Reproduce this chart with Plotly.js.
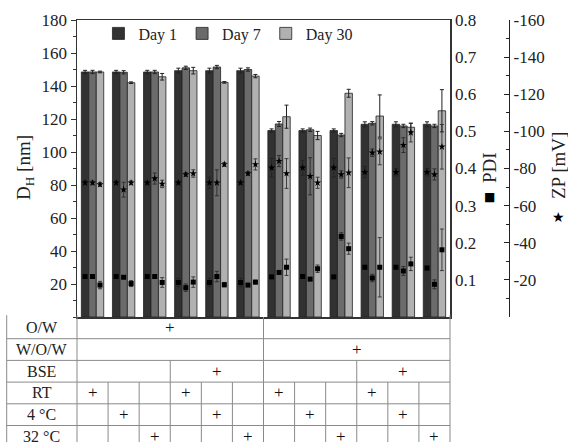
<!DOCTYPE html>
<html>
<head>
<meta charset="utf-8">
<script src="https://cdn.plot.ly/plotly-3.0.1.min.js"></script>
<style>html,body{margin:0;padding:0;background:#fff;}#chart{width:568px;height:442px;}</style>
</head>
<body>
<div id="chart"></div>
<script>
// ---------- data ----------
const groups = ['O/W RT','O/W 4 °C','O/W 32 °C','O/W BSE RT','O/W BSE 4 °C','O/W BSE 32 °C',
                'W/O/W RT','W/O/W 4 °C','W/O/W 32 °C','W/O/W BSE RT','W/O/W BSE 4 °C','W/O/W BSE 32 °C'];
const days = ['Day 1', 'Day 7', 'Day 30'];

// hydrodynamic diameter D_H [nm]
const dh1  = [148.5,148.5,148.5,149.3,149.3,149.3,113.0,113.0,113.0,116.8,116.8,116.8];
const dh7  = [148.5,148.3,148.5,151.0,151.5,150.0,117.0,113.5,110.3,117.4,115.8,115.8];
const dh30 = [148.5,142.0,145.6,149.3,142.2,146.0,121.4,110.0,135.6,121.8,115.0,125.0];
const dhE1  = [1,1,1,1.5,1.5,1.5,1,1,1,1.5,1.5,1.5];
const dhE7  = [1,1,1,1,1,1,1.5,1,1,1,1,1];
const dhE30 = [0.5,0.5,2,2,0.5,1,7,2.5,2.4,12.8,2.5,12.8];

// PDI
const pdi1  = [0.109,0.109,0.109,0.093,0.093,0.093,0.108,0.109,0.108,0.134,0.134,0.132];
const pdi7  = [0.109,0.107,0.109,0.079,0.109,0.086,0.120,0.102,0.217,0.105,0.124,0.088];
const pdi30 = [0.086,0.090,0.093,0.094,0.087,0.094,0.134,0.130,0.184,0.134,0.143,0.181];
const pdiE1  = [0.003,0.003,0.003,0.011,0.011,0.011,0.003,0.003,0.003,0.005,0.005,0.005];
const pdiE7  = [0.003,0.003,0.003,0.010,0.014,0.003,0.003,0.003,0.010,0.010,0.012,0.012];
const pdiE30 = [0.010,0.008,0.013,0.014,0.006,0.005,0.022,0.010,0.015,0.080,0.018,0.056];

// zeta potential ZP [mV]
const zp1  = [-72.3,-72.3,-72.3,-72.3,-72.3,-72.3,-80.4,-80.4,-80.4,-78.0,-78.0,-78.0];
const zp7  = [-72.3,-68.6,-74.6,-76.8,-72.3,-77.3,-84.0,-75.8,-76.8,-88.5,-92.6,-76.8];
const zp30 = [-71.4,-72.3,-71.7,-77.3,-82.2,-82.2,-77.3,-72.3,-77.7,-89.0,-99.3,-91.7];
const zpE1  = [1,1,1,1,3,1,5,4,5,3,2,2];
const zpE7  = [1,4,3,1,7,1,3,10,2,2,4,3];
const zpE30 = [1,1,2,2,1,3,8,3,8,7,5,12];

// tick labels
const dhTicks = [20,40,60,80,100,120,140,160,180];
const pdiTicks = [0.1,0.2,0.3,0.4,0.5,0.6,0.7,0.8];
const zpTicks = [-20,-40,-60,-80,-100,-120,-140,-160];
const zpTickText = ['-20','-40','-60','-80','-100','-120','-140','-160'];

// condition table
const tableRows = ['O/W','W/O/W','BSE','RT','4 °C','32 °C'];
// each cell: [first group, last group, text]
const tableCells = [
  [[0,5,'+'],[6,11,'']],
  [[0,5,''],[6,11,'+']],
  [[0,2,''],[3,5,'+'],[6,8,''],[9,11,'+']],
  [[0,0,'+'],[1,1,''],[2,2,''],[3,3,'+'],[4,4,''],[5,5,''],[6,6,'+'],[7,7,''],[8,8,''],[9,9,'+'],[10,10,''],[11,11,'']],
  [[0,0,''],[1,1,'+'],[2,2,''],[3,3,''],[4,4,'+'],[5,5,''],[6,6,''],[7,7,'+'],[8,8,''],[9,9,''],[10,10,'+'],[11,11,'']],
  [[0,0,''],[1,1,''],[2,2,'+'],[3,3,''],[4,4,''],[5,5,'+'],[6,6,''],[7,7,''],[8,8,'+'],[9,9,''],[10,10,''],[11,11,'+']]
];

// ---------- styling ----------
const serif = 'Liberation Serif, Times New Roman, serif';
const colors = ['#323232', '#6b6b6b', '#b1b1b1'];
const bargap = 0.28;
const barW = (1 - bargap) / 3;
const xIdx = groups.map((_, i) => i);

const dhSeries = [dh1, dh7, dh30];
const dhErr = [dhE1, dhE7, dhE30];
const pdiSeries = [pdi1, pdi7, pdi30];
const pdiErr = [pdiE1, pdiE7, pdiE30];
const zpSeries = [zp1, zp7, zp30];
const zpErr = [zpE1, zpE7, zpE30];

const traces = [];
days.forEach((d, j) => {
  traces.push({
    type: 'bar', name: d, x: xIdx, y: dhSeries[j],
    marker: {color: colors[j], line: {color: '#222', width: 0.8}},
    error_y: {type: 'data', array: dhErr[j], visible: true, color: '#222', thickness: 1, width: 2}
  });
});
days.forEach((d, j) => {
  const xs = xIdx.map(i => i + (j - 1) * barW);
  traces.push({
    type: 'scatter', mode: 'markers', x: xs, y: pdiSeries[j], yaxis: 'y2', showlegend: false,
    marker: {symbol: 'square', size: 5, color: '#000'},
    error_y: {type: 'data', array: pdiErr[j], visible: true, color: '#222', thickness: 0.8, width: 2}
  });
  traces.push({
    type: 'scatter', mode: 'markers', x: xs, y: zpSeries[j], yaxis: 'y3', showlegend: false,
    marker: {symbol: 'star', size: 5.5, color: '#000'},
    error_y: {type: 'data', array: zpErr[j], visible: true, color: '#222', thickness: 0.8, width: 2}
  });
});

// ---------- geometry (pixels) ----------
const W = 568, H = 442, mL = 77, mR = 59, mT = 20, mB = 125;
const plotW = W - mL - mR, plotH = H - mT - mB;
const xDomEnd = 373 / plotW;
const rowH = 21.7 / plotH;
const tableLeft = (6.7 - mL) / plotW;
const lineCol = '#8a8a8a';
const px = v => (v - mL) / plotW;          // pixel x -> paper
const py = v => (mT + plotH - v) / plotH;  // pixel y -> paper

const shapes = [];
const annotations = [];
for (let r = 1; r < tableRows.length; r++) {
  shapes.push({type: 'line', xref: 'paper', yref: 'paper', x0: tableLeft, x1: xDomEnd, y0: -r * rowH, y1: -r * rowH,
               line: {color: lineCol, width: 1}});
}
[tableLeft, 0, xDomEnd].forEach(xp => {
  shapes.push({type: 'line', xref: 'paper', yref: 'paper', x0: xp, x1: xp, y0: 0.006, y1: -tableRows.length * rowH,
               line: {color: lineCol, width: 1}});
});
tableCells.forEach((cells, r) => {
  cells.forEach((c, k) => {
    if (k < cells.length - 1) {
      shapes.push({type: 'line', xref: 'x', yref: 'paper', x0: c[1] + 0.5, x1: c[1] + 0.5,
                   y0: -r * rowH, y1: -(r + 1) * rowH, line: {color: lineCol, width: 1}});
    }
    if (c[2]) {
      annotations.push({xref: 'x', yref: 'paper', x: (c[0] + c[1]) / 2, y: -(r + 0.5) * rowH,
                        text: c[2], showarrow: false, font: {family: serif, size: 17, color: '#111'},
                        xanchor: 'center', yanchor: 'middle'});
    }
  });
  annotations.push({xref: 'paper', yref: 'paper', x: tableLeft / 2, y: -(r + 0.5) * rowH,
                    text: tableRows[r], showarrow: false, font: {family: serif, size: 16, color: '#222'},
                    xanchor: 'center', yanchor: 'middle'});
});

// axis titles
const titleFont = {family: serif, size: 19, color: '#222'};
annotations.push({xref: 'paper', yref: 'paper', x: px(25), y: py(168), text: 'D<sub>H</sub> [nm]',
                  textangle: -90, showarrow: false, font: titleFont, xanchor: 'center', yanchor: 'middle'});
annotations.push({xref: 'paper', yref: 'paper', x: px(489), y: py(168), text: 'PDI',
                  textangle: -90, showarrow: false, font: titleFont, xanchor: 'center', yanchor: 'middle'});
annotations.push({xref: 'paper', yref: 'paper', x: px(489), y: py(197), text: '■',
                  showarrow: false, font: {family: 'DejaVu Sans', size: 12, color: '#000'},
                  xanchor: 'center', yanchor: 'middle'});
annotations.push({xref: 'paper', yref: 'paper', x: px(558), y: py(166), text: 'ZP [mV]',
                  textangle: -90, showarrow: false, font: titleFont, xanchor: 'center', yanchor: 'middle'});
annotations.push({xref: 'paper', yref: 'paper', x: px(558), y: py(217), text: '★',
                  showarrow: false, font: {family: 'DejaVu Sans', size: 14, color: '#000'},
                  xanchor: 'center', yanchor: 'middle'});

const axisFont = {family: serif, size: 17, color: '#222'};
const layout = {
  width: W, height: H,
  margin: {l: mL, r: mR, t: mT, b: mB, pad: 0},
  paper_bgcolor: '#fff', plot_bgcolor: '#fff',
  barmode: 'group', bargap: bargap, bargroupgap: 0,
  showlegend: true,
  legend: {orientation: 'h', x: 0.0496, y: py(16.5), xanchor: 'left', yanchor: 'top',
           font: {family: serif, size: 16, color: '#222'}, bgcolor: 'rgba(0,0,0,0)',
           traceorder: 'normal'},
  xaxis: {domain: [0, xDomEnd], range: [-0.5, 11.5], showticklabels: false, ticks: '', showgrid: false,
          zeroline: false, showline: true, mirror: true, linecolor: '#333', linewidth: 1.5},
  yaxis: {range: [0, 180], tickmode: 'array', tickvals: dhTicks, ticks: 'outside', ticklen: 5, tickwidth: 1,
          tickcolor: '#333', showgrid: false, zeroline: false, showline: true, mirror: true,
          linecolor: '#333', linewidth: 1.5, tickfont: axisFont,
          minor: {dtick: 10, tick0: 0, ticks: 'outside', ticklen: 3, tickcolor: '#333'}},
  yaxis2: {overlaying: 'y', side: 'right', anchor: 'x', range: [0, 0.8], tickmode: 'array', tickvals: pdiTicks,
           ticks: '', showgrid: false, zeroline: false, showline: false, tickfont: axisFont,
           ticklabelstandoff: 4},
  yaxis3: {overlaying: 'y', side: 'right', anchor: 'free', position: 1, range: [0, -160],
           tickmode: 'array', tickvals: zpTicks, ticktext: zpTickText, ticks: 'inside', ticklen: 5,
           tickwidth: 1, tickcolor: '#222', showgrid: false, zeroline: false, showline: true,
           linecolor: '#222', linewidth: 1.2, tickfont: axisFont,
           minor: {dtick: 10, tick0: 0, ticks: 'inside', ticklen: 3, tickcolor: '#222'}},
  shapes: shapes,
  annotations: annotations
};

Plotly.newPlot('chart', traces, layout, {displayModeBar: false, staticPlot: true});
</script>
</body>
</html>
